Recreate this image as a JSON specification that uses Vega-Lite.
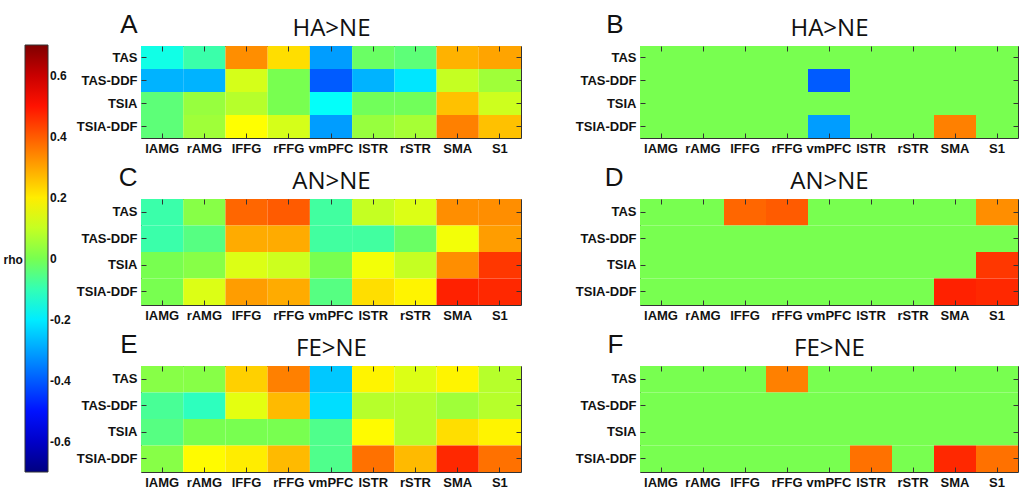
{
  "$schema": "https://vega.github.io/schema/vega-lite/v6.json",
  "background": "white",
  "padding": {"left": 2, "top": 10, "right": 4, "bottom": 4},
  "data": {"values": [
    {"panel":"A","measure":"TAS","region":"lAMG","rho":-0.15},{"panel":"A","measure":"TAS","region":"rAMG","rho":-0.09},{"panel":"A","measure":"TAS","region":"lFFG","rho":0.33},{"panel":"A","measure":"TAS","region":"rFFG","rho":0.22},{"panel":"A","measure":"TAS","region":"vmPFC","rho":-0.31},{"panel":"A","measure":"TAS","region":"lSTR","rho":-0.02},{"panel":"A","measure":"TAS","region":"rSTR","rho":-0.04},{"panel":"A","measure":"TAS","region":"SMA","rho":0.28},{"panel":"A","measure":"TAS","region":"S1","rho":0.30},
    {"panel":"A","measure":"TAS-DDF","region":"lAMG","rho":-0.28},{"panel":"A","measure":"TAS-DDF","region":"rAMG","rho":-0.28},{"panel":"A","measure":"TAS-DDF","region":"lFFG","rho":0.12},{"panel":"A","measure":"TAS-DDF","region":"rFFG","rho":0.0},{"panel":"A","measure":"TAS-DDF","region":"vmPFC","rho":-0.40},{"panel":"A","measure":"TAS-DDF","region":"lSTR","rho":-0.28},{"panel":"A","measure":"TAS-DDF","region":"rSTR","rho":-0.21},{"panel":"A","measure":"TAS-DDF","region":"SMA","rho":0.10},{"panel":"A","measure":"TAS-DDF","region":"S1","rho":0.05},
    {"panel":"A","measure":"TSIA","region":"lAMG","rho":-0.04},{"panel":"A","measure":"TSIA","region":"rAMG","rho":0.04},{"panel":"A","measure":"TSIA","region":"lFFG","rho":0.08},{"panel":"A","measure":"TSIA","region":"rFFG","rho":0.0},{"panel":"A","measure":"TSIA","region":"vmPFC","rho":-0.17},{"panel":"A","measure":"TSIA","region":"lSTR","rho":-0.01},{"panel":"A","measure":"TSIA","region":"rSTR","rho":-0.01},{"panel":"A","measure":"TSIA","region":"SMA","rho":0.26},{"panel":"A","measure":"TSIA","region":"S1","rho":0.11},
    {"panel":"A","measure":"TSIA-DDF","region":"lAMG","rho":-0.04},{"panel":"A","measure":"TSIA-DDF","region":"rAMG","rho":0.05},{"panel":"A","measure":"TSIA-DDF","region":"lFFG","rho":0.175},{"panel":"A","measure":"TSIA-DDF","region":"rFFG","rho":0.12},{"panel":"A","measure":"TSIA-DDF","region":"vmPFC","rho":-0.31},{"panel":"A","measure":"TSIA-DDF","region":"lSTR","rho":0.04},{"panel":"A","measure":"TSIA-DDF","region":"rSTR","rho":0.06},{"panel":"A","measure":"TSIA-DDF","region":"SMA","rho":0.35},{"panel":"A","measure":"TSIA-DDF","region":"S1","rho":0.26},

    {"panel":"B","measure":"TAS","region":"lAMG","rho":0},{"panel":"B","measure":"TAS","region":"rAMG","rho":0},{"panel":"B","measure":"TAS","region":"lFFG","rho":0},{"panel":"B","measure":"TAS","region":"rFFG","rho":0},{"panel":"B","measure":"TAS","region":"vmPFC","rho":0},{"panel":"B","measure":"TAS","region":"lSTR","rho":0},{"panel":"B","measure":"TAS","region":"rSTR","rho":0},{"panel":"B","measure":"TAS","region":"SMA","rho":0},{"panel":"B","measure":"TAS","region":"S1","rho":0},
    {"panel":"B","measure":"TAS-DDF","region":"lAMG","rho":0},{"panel":"B","measure":"TAS-DDF","region":"rAMG","rho":0},{"panel":"B","measure":"TAS-DDF","region":"lFFG","rho":0},{"panel":"B","measure":"TAS-DDF","region":"rFFG","rho":0},{"panel":"B","measure":"TAS-DDF","region":"vmPFC","rho":-0.40},{"panel":"B","measure":"TAS-DDF","region":"lSTR","rho":0},{"panel":"B","measure":"TAS-DDF","region":"rSTR","rho":0},{"panel":"B","measure":"TAS-DDF","region":"SMA","rho":0},{"panel":"B","measure":"TAS-DDF","region":"S1","rho":0},
    {"panel":"B","measure":"TSIA","region":"lAMG","rho":0},{"panel":"B","measure":"TSIA","region":"rAMG","rho":0},{"panel":"B","measure":"TSIA","region":"lFFG","rho":0},{"panel":"B","measure":"TSIA","region":"rFFG","rho":0},{"panel":"B","measure":"TSIA","region":"vmPFC","rho":0},{"panel":"B","measure":"TSIA","region":"lSTR","rho":0},{"panel":"B","measure":"TSIA","region":"rSTR","rho":0},{"panel":"B","measure":"TSIA","region":"SMA","rho":0},{"panel":"B","measure":"TSIA","region":"S1","rho":0},
    {"panel":"B","measure":"TSIA-DDF","region":"lAMG","rho":0},{"panel":"B","measure":"TSIA-DDF","region":"rAMG","rho":0},{"panel":"B","measure":"TSIA-DDF","region":"lFFG","rho":0},{"panel":"B","measure":"TSIA-DDF","region":"rFFG","rho":0},{"panel":"B","measure":"TSIA-DDF","region":"vmPFC","rho":-0.31},{"panel":"B","measure":"TSIA-DDF","region":"lSTR","rho":0},{"panel":"B","measure":"TSIA-DDF","region":"rSTR","rho":0},{"panel":"B","measure":"TSIA-DDF","region":"SMA","rho":0.35},{"panel":"B","measure":"TSIA-DDF","region":"S1","rho":0},

    {"panel":"C","measure":"TAS","region":"lAMG","rho":-0.09},{"panel":"C","measure":"TAS","region":"rAMG","rho":0.02},{"panel":"C","measure":"TAS","region":"lFFG","rho":0.385},{"panel":"C","measure":"TAS","region":"rFFG","rho":0.40},{"panel":"C","measure":"TAS","region":"vmPFC","rho":-0.08},{"panel":"C","measure":"TAS","region":"lSTR","rho":0.10},{"panel":"C","measure":"TAS","region":"rSTR","rho":0.13},{"panel":"C","measure":"TAS","region":"SMA","rho":0.33},{"panel":"C","measure":"TAS","region":"S1","rho":0.33},
    {"panel":"C","measure":"TAS-DDF","region":"lAMG","rho":-0.09},{"panel":"C","measure":"TAS-DDF","region":"rAMG","rho":-0.05},{"panel":"C","measure":"TAS-DDF","region":"lFFG","rho":0.29},{"panel":"C","measure":"TAS-DDF","region":"rFFG","rho":0.29},{"panel":"C","measure":"TAS-DDF","region":"vmPFC","rho":-0.08},{"panel":"C","measure":"TAS-DDF","region":"lSTR","rho":-0.08},{"panel":"C","measure":"TAS-DDF","region":"rSTR","rho":-0.02},{"panel":"C","measure":"TAS-DDF","region":"SMA","rho":0.16},{"panel":"C","measure":"TAS-DDF","region":"S1","rho":0.31},
    {"panel":"C","measure":"TSIA","region":"lAMG","rho":0.0},{"panel":"C","measure":"TSIA","region":"rAMG","rho":0.02},{"panel":"C","measure":"TSIA","region":"lFFG","rho":0.13},{"panel":"C","measure":"TSIA","region":"rFFG","rho":0.11},{"panel":"C","measure":"TSIA","region":"vmPFC","rho":0.0},{"panel":"C","measure":"TSIA","region":"lSTR","rho":0.16},{"panel":"C","measure":"TSIA","region":"rSTR","rho":0.10},{"panel":"C","measure":"TSIA","region":"SMA","rho":0.33},{"panel":"C","measure":"TSIA","region":"S1","rho":0.45},
    {"panel":"C","measure":"TSIA-DDF","region":"lAMG","rho":0.0},{"panel":"C","measure":"TSIA-DDF","region":"rAMG","rho":0.13},{"panel":"C","measure":"TSIA-DDF","region":"lFFG","rho":0.31},{"panel":"C","measure":"TSIA-DDF","region":"rFFG","rho":0.29},{"panel":"C","measure":"TSIA-DDF","region":"vmPFC","rho":-0.05},{"panel":"C","measure":"TSIA-DDF","region":"lSTR","rho":0.22},{"panel":"C","measure":"TSIA-DDF","region":"rSTR","rho":0.19},{"panel":"C","measure":"TSIA-DDF","region":"SMA","rho":0.48},{"panel":"C","measure":"TSIA-DDF","region":"S1","rho":0.47},

    {"panel":"D","measure":"TAS","region":"lAMG","rho":0},{"panel":"D","measure":"TAS","region":"rAMG","rho":0},{"panel":"D","measure":"TAS","region":"lFFG","rho":0.385},{"panel":"D","measure":"TAS","region":"rFFG","rho":0.40},{"panel":"D","measure":"TAS","region":"vmPFC","rho":0},{"panel":"D","measure":"TAS","region":"lSTR","rho":0},{"panel":"D","measure":"TAS","region":"rSTR","rho":0},{"panel":"D","measure":"TAS","region":"SMA","rho":0},{"panel":"D","measure":"TAS","region":"S1","rho":0.33},
    {"panel":"D","measure":"TAS-DDF","region":"lAMG","rho":0},{"panel":"D","measure":"TAS-DDF","region":"rAMG","rho":0},{"panel":"D","measure":"TAS-DDF","region":"lFFG","rho":0},{"panel":"D","measure":"TAS-DDF","region":"rFFG","rho":0},{"panel":"D","measure":"TAS-DDF","region":"vmPFC","rho":0},{"panel":"D","measure":"TAS-DDF","region":"lSTR","rho":0},{"panel":"D","measure":"TAS-DDF","region":"rSTR","rho":0},{"panel":"D","measure":"TAS-DDF","region":"SMA","rho":0},{"panel":"D","measure":"TAS-DDF","region":"S1","rho":0},
    {"panel":"D","measure":"TSIA","region":"lAMG","rho":0},{"panel":"D","measure":"TSIA","region":"rAMG","rho":0},{"panel":"D","measure":"TSIA","region":"lFFG","rho":0},{"panel":"D","measure":"TSIA","region":"rFFG","rho":0},{"panel":"D","measure":"TSIA","region":"vmPFC","rho":0},{"panel":"D","measure":"TSIA","region":"lSTR","rho":0},{"panel":"D","measure":"TSIA","region":"rSTR","rho":0},{"panel":"D","measure":"TSIA","region":"SMA","rho":0},{"panel":"D","measure":"TSIA","region":"S1","rho":0.45},
    {"panel":"D","measure":"TSIA-DDF","region":"lAMG","rho":0},{"panel":"D","measure":"TSIA-DDF","region":"rAMG","rho":0},{"panel":"D","measure":"TSIA-DDF","region":"lFFG","rho":0},{"panel":"D","measure":"TSIA-DDF","region":"rFFG","rho":0},{"panel":"D","measure":"TSIA-DDF","region":"vmPFC","rho":0},{"panel":"D","measure":"TSIA-DDF","region":"lSTR","rho":0},{"panel":"D","measure":"TSIA-DDF","region":"rSTR","rho":0},{"panel":"D","measure":"TSIA-DDF","region":"SMA","rho":0.48},{"panel":"D","measure":"TSIA-DDF","region":"S1","rho":0.47},

    {"panel":"E","measure":"TAS","region":"lAMG","rho":0.02},{"panel":"E","measure":"TAS","region":"rAMG","rho":0.02},{"panel":"E","measure":"TAS","region":"lFFG","rho":0.24},{"panel":"E","measure":"TAS","region":"rFFG","rho":0.35},{"panel":"E","measure":"TAS","region":"vmPFC","rho":-0.25},{"panel":"E","measure":"TAS","region":"lSTR","rho":0.19},{"panel":"E","measure":"TAS","region":"rSTR","rho":0.13},{"panel":"E","measure":"TAS","region":"SMA","rho":0.19},{"panel":"E","measure":"TAS","region":"S1","rho":0.08},
    {"panel":"E","measure":"TAS-DDF","region":"lAMG","rho":-0.07},{"panel":"E","measure":"TAS-DDF","region":"rAMG","rho":-0.11},{"panel":"E","measure":"TAS-DDF","region":"lFFG","rho":0.14},{"panel":"E","measure":"TAS-DDF","region":"rFFG","rho":0.27},{"panel":"E","measure":"TAS-DDF","region":"vmPFC","rho":-0.22},{"panel":"E","measure":"TAS-DDF","region":"lSTR","rho":0.08},{"panel":"E","measure":"TAS-DDF","region":"rSTR","rho":0.08},{"panel":"E","measure":"TAS-DDF","region":"SMA","rho":0.05},{"panel":"E","measure":"TAS-DDF","region":"S1","rho":0.08},
    {"panel":"E","measure":"TSIA","region":"lAMG","rho":-0.05},{"panel":"E","measure":"TSIA","region":"rAMG","rho":0.0},{"panel":"E","measure":"TSIA","region":"lFFG","rho":0.0},{"panel":"E","measure":"TSIA","region":"rFFG","rho":0.0},{"panel":"E","measure":"TSIA","region":"vmPFC","rho":-0.06},{"panel":"E","measure":"TSIA","region":"lSTR","rho":0.18},{"panel":"E","measure":"TSIA","region":"rSTR","rho":0.08},{"panel":"E","measure":"TSIA","region":"SMA","rho":0.22},{"panel":"E","measure":"TSIA","region":"S1","rho":0.19},
    {"panel":"E","measure":"TSIA-DDF","region":"lAMG","rho":0.02},{"panel":"E","measure":"TSIA-DDF","region":"rAMG","rho":0.18},{"panel":"E","measure":"TSIA-DDF","region":"lFFG","rho":0.20},{"panel":"E","measure":"TSIA-DDF","region":"rFFG","rho":0.27},{"panel":"E","measure":"TSIA-DDF","region":"vmPFC","rho":-0.06},{"panel":"E","measure":"TSIA-DDF","region":"lSTR","rho":0.37},{"panel":"E","measure":"TSIA-DDF","region":"rSTR","rho":0.27},{"panel":"E","measure":"TSIA-DDF","region":"SMA","rho":0.47},{"panel":"E","measure":"TSIA-DDF","region":"S1","rho":0.37},

    {"panel":"F","measure":"TAS","region":"lAMG","rho":0},{"panel":"F","measure":"TAS","region":"rAMG","rho":0},{"panel":"F","measure":"TAS","region":"lFFG","rho":0},{"panel":"F","measure":"TAS","region":"rFFG","rho":0.35},{"panel":"F","measure":"TAS","region":"vmPFC","rho":0},{"panel":"F","measure":"TAS","region":"lSTR","rho":0},{"panel":"F","measure":"TAS","region":"rSTR","rho":0},{"panel":"F","measure":"TAS","region":"SMA","rho":0},{"panel":"F","measure":"TAS","region":"S1","rho":0},
    {"panel":"F","measure":"TAS-DDF","region":"lAMG","rho":0},{"panel":"F","measure":"TAS-DDF","region":"rAMG","rho":0},{"panel":"F","measure":"TAS-DDF","region":"lFFG","rho":0},{"panel":"F","measure":"TAS-DDF","region":"rFFG","rho":0},{"panel":"F","measure":"TAS-DDF","region":"vmPFC","rho":0},{"panel":"F","measure":"TAS-DDF","region":"lSTR","rho":0},{"panel":"F","measure":"TAS-DDF","region":"rSTR","rho":0},{"panel":"F","measure":"TAS-DDF","region":"SMA","rho":0},{"panel":"F","measure":"TAS-DDF","region":"S1","rho":0},
    {"panel":"F","measure":"TSIA","region":"lAMG","rho":0},{"panel":"F","measure":"TSIA","region":"rAMG","rho":0},{"panel":"F","measure":"TSIA","region":"lFFG","rho":0},{"panel":"F","measure":"TSIA","region":"rFFG","rho":0},{"panel":"F","measure":"TSIA","region":"vmPFC","rho":0},{"panel":"F","measure":"TSIA","region":"lSTR","rho":0},{"panel":"F","measure":"TSIA","region":"rSTR","rho":0},{"panel":"F","measure":"TSIA","region":"SMA","rho":0},{"panel":"F","measure":"TSIA","region":"S1","rho":0},
    {"panel":"F","measure":"TSIA-DDF","region":"lAMG","rho":0},{"panel":"F","measure":"TSIA-DDF","region":"rAMG","rho":0},{"panel":"F","measure":"TSIA-DDF","region":"lFFG","rho":0},{"panel":"F","measure":"TSIA-DDF","region":"rFFG","rho":0},{"panel":"F","measure":"TSIA-DDF","region":"vmPFC","rho":0},{"panel":"F","measure":"TSIA-DDF","region":"lSTR","rho":0.37},{"panel":"F","measure":"TSIA-DDF","region":"rSTR","rho":0},{"panel":"F","measure":"TSIA-DDF","region":"SMA","rho":0.47},{"panel":"F","measure":"TSIA-DDF","region":"S1","rho":0.37}
  ]},
  "config": {
    "view": {"stroke": "#333333", "strokeWidth": 1},
    "axis": {"domain": false, "grid": false, "tickSize": -5, "tickColor": "#333333", "labelFont": "Liberation Sans", "labelFontSize": 13, "labelFontWeight": "bold", "labelColor": "#111111", "labelAngle": 0},
    "axisLeft": {"labelPadding": 9, "titleFont": "Liberation Sans", "titleFontSize": 12, "titleFontWeight": "bold", "titleColor": "#111111", "titleAngle": 0, "titleAlign": "left", "titleBaseline": "middle"},
    "axisBottom": {"labelPadding": 9},
    "axisRight": {"titleFont": "Liberation Sans", "titleFontSize": 26, "titleFontWeight": "normal", "titleColor": "#111111", "titleAngle": 0, "titleAlign": "right", "titleBaseline": "alphabetic", "titleY": -14},
    "axisTop": {"titleFont": "Open Sans", "titleFontSize": 24, "titleFontWeight": "normal", "titleColor": "#111111", "titlePadding": 10, "titleBaseline": "alphabetic"},
    "legend": {"orient": "none", "direction": "vertical", "legendX": -116, "legendY": -1, "padding": 0, "gradientLength": 427, "gradientThickness": 23, "gradientStrokeColor": "#333333", "gradientStrokeWidth": 1, "labelFont": "Liberation Sans", "labelFontSize": 12, "labelFontWeight": "bold", "labelColor": "#111111", "labelOffset": 5}
  },
  "bounds": "flush",
  "columns": 2,
  "spacing": {"row": 61, "column": 119},
  "concat": [
      {"width": 380, "height": 92, "transform": [{"filter": "datum.panel === 'A'"}],
       "layer": [
        {"mark": {"type": "rect"}, "encoding": {
          "x": {"field": "region", "type": "nominal", "sort": ["lAMG","rAMG","lFFG","rFFG","vmPFC","lSTR","rSTR","SMA","S1"], "axis": {"orient": "bottom", "title": null}},
          "y": {"field": "measure", "type": "nominal", "sort": ["TAS","TAS-DDF","TSIA","TSIA-DDF"], "axis": {"orient": "left", "title": null}},
          "color": {"field": "rho", "type": "quantitative", "scale": {"domain": [-0.7,-0.525,-0.175,0,0.175,0.525,0.7], "range": ["#000080","#0000ff","#00ffff","#78ff50","#ffff00","#ff0000","#800000"], "interpolate": "rgb"}, "legend": {"title": null, "values": [-0.6,-0.4,-0.2,0,0.2,0.4,0.6], "format": ".1~f", "labelExpr": "replace(datum.label, '\u2212', '-')"}}}},
        {"mark": {"type": "rect", "opacity": 0}, "encoding": {
          "x": {"field": "region", "type": "nominal", "sort": ["lAMG","rAMG","lFFG","rFFG","vmPFC","lSTR","rSTR","SMA","S1"], "axis": {"orient": "top", "title": "HA>NE", "labels": false}},
          "y": {"field": "measure", "type": "nominal", "sort": ["TAS","TAS-DDF","TSIA","TSIA-DDF"], "axis": {"orient": "right", "title": "A", "titleX": -384, "labels": false}}}}
       ],
       "resolve": {"axis": {"x": "independent", "y": "independent"}}},
      {"width": 378, "height": 92, "transform": [{"filter": "datum.panel === 'B'"}],
       "layer": [
        {"mark": {"type": "rect"}, "encoding": {
          "x": {"field": "region", "type": "nominal", "sort": ["lAMG","rAMG","lFFG","rFFG","vmPFC","lSTR","rSTR","SMA","S1"], "axis": {"orient": "bottom", "title": null}},
          "y": {"field": "measure", "type": "nominal", "sort": ["TAS","TAS-DDF","TSIA","TSIA-DDF"], "axis": {"orient": "left", "title": null}},
          "color": {"field": "rho", "type": "quantitative", "scale": {"domain": [-0.7,-0.525,-0.175,0,0.175,0.525,0.7], "range": ["#000080","#0000ff","#00ffff","#78ff50","#ffff00","#ff0000","#800000"], "interpolate": "rgb"}, "legend": {"title": null, "values": [-0.6,-0.4,-0.2,0,0.2,0.4,0.6], "format": ".1~f", "labelExpr": "replace(datum.label, '\u2212', '-')"}}}},
        {"mark": {"type": "rect", "opacity": 0}, "encoding": {
          "x": {"field": "region", "type": "nominal", "sort": ["lAMG","rAMG","lFFG","rFFG","vmPFC","lSTR","rSTR","SMA","S1"], "axis": {"orient": "top", "title": "HA>NE", "labels": false}},
          "y": {"field": "measure", "type": "nominal", "sort": ["TAS","TAS-DDF","TSIA","TSIA-DDF"], "axis": {"orient": "right", "title": "B", "titleX": -395, "labels": false}}}}
       ],
       "resolve": {"axis": {"x": "independent", "y": "independent"}}},
      {"width": 380, "height": 106, "transform": [{"filter": "datum.panel === 'C'"}],
       "layer": [
        {"mark": {"type": "rect"}, "encoding": {
          "x": {"field": "region", "type": "nominal", "sort": ["lAMG","rAMG","lFFG","rFFG","vmPFC","lSTR","rSTR","SMA","S1"], "axis": {"orient": "bottom", "title": null}},
          "y": {"field": "measure", "type": "nominal", "sort": ["TAS","TAS-DDF","TSIA","TSIA-DDF"], "axis": {"orient": "left", "title": "rho", "titleX": -138, "titleY": 60}},
          "color": {"field": "rho", "type": "quantitative", "scale": {"domain": [-0.7,-0.525,-0.175,0,0.175,0.525,0.7], "range": ["#000080","#0000ff","#00ffff","#78ff50","#ffff00","#ff0000","#800000"], "interpolate": "rgb"}, "legend": {"title": null, "values": [-0.6,-0.4,-0.2,0,0.2,0.4,0.6], "format": ".1~f", "labelExpr": "replace(datum.label, '\u2212', '-')"}}}},
        {"mark": {"type": "rect", "opacity": 0}, "encoding": {
          "x": {"field": "region", "type": "nominal", "sort": ["lAMG","rAMG","lFFG","rFFG","vmPFC","lSTR","rSTR","SMA","S1"], "axis": {"orient": "top", "title": "AN>NE", "labels": false}},
          "y": {"field": "measure", "type": "nominal", "sort": ["TAS","TAS-DDF","TSIA","TSIA-DDF"], "axis": {"orient": "right", "title": "C", "titleX": -384, "labels": false}}}}
       ],
       "resolve": {"axis": {"x": "independent", "y": "independent"}}},
      {"width": 378, "height": 106, "transform": [{"filter": "datum.panel === 'D'"}],
       "layer": [
        {"mark": {"type": "rect"}, "encoding": {
          "x": {"field": "region", "type": "nominal", "sort": ["lAMG","rAMG","lFFG","rFFG","vmPFC","lSTR","rSTR","SMA","S1"], "axis": {"orient": "bottom", "title": null}},
          "y": {"field": "measure", "type": "nominal", "sort": ["TAS","TAS-DDF","TSIA","TSIA-DDF"], "axis": {"orient": "left", "title": null}},
          "color": {"field": "rho", "type": "quantitative", "scale": {"domain": [-0.7,-0.525,-0.175,0,0.175,0.525,0.7], "range": ["#000080","#0000ff","#00ffff","#78ff50","#ffff00","#ff0000","#800000"], "interpolate": "rgb"}, "legend": {"title": null, "values": [-0.6,-0.4,-0.2,0,0.2,0.4,0.6], "format": ".1~f", "labelExpr": "replace(datum.label, '\u2212', '-')"}}}},
        {"mark": {"type": "rect", "opacity": 0}, "encoding": {
          "x": {"field": "region", "type": "nominal", "sort": ["lAMG","rAMG","lFFG","rFFG","vmPFC","lSTR","rSTR","SMA","S1"], "axis": {"orient": "top", "title": "AN>NE", "labels": false}},
          "y": {"field": "measure", "type": "nominal", "sort": ["TAS","TAS-DDF","TSIA","TSIA-DDF"], "axis": {"orient": "right", "title": "D", "titleX": -395, "labels": false}}}}
       ],
       "resolve": {"axis": {"x": "independent", "y": "independent"}}},
      {"width": 380, "height": 106, "transform": [{"filter": "datum.panel === 'E'"}],
       "layer": [
        {"mark": {"type": "rect"}, "encoding": {
          "x": {"field": "region", "type": "nominal", "sort": ["lAMG","rAMG","lFFG","rFFG","vmPFC","lSTR","rSTR","SMA","S1"], "axis": {"orient": "bottom", "title": null}},
          "y": {"field": "measure", "type": "nominal", "sort": ["TAS","TAS-DDF","TSIA","TSIA-DDF"], "axis": {"orient": "left", "title": null}},
          "color": {"field": "rho", "type": "quantitative", "scale": {"domain": [-0.7,-0.525,-0.175,0,0.175,0.525,0.7], "range": ["#000080","#0000ff","#00ffff","#78ff50","#ffff00","#ff0000","#800000"], "interpolate": "rgb"}, "legend": {"title": null, "values": [-0.6,-0.4,-0.2,0,0.2,0.4,0.6], "format": ".1~f", "labelExpr": "replace(datum.label, '\u2212', '-')"}}}},
        {"mark": {"type": "rect", "opacity": 0}, "encoding": {
          "x": {"field": "region", "type": "nominal", "sort": ["lAMG","rAMG","lFFG","rFFG","vmPFC","lSTR","rSTR","SMA","S1"], "axis": {"orient": "top", "title": "FE>NE", "labels": false}},
          "y": {"field": "measure", "type": "nominal", "sort": ["TAS","TAS-DDF","TSIA","TSIA-DDF"], "axis": {"orient": "right", "title": "E", "titleX": -384, "labels": false}}}}
       ],
       "resolve": {"axis": {"x": "independent", "y": "independent"}}},
      {"width": 378, "height": 106, "transform": [{"filter": "datum.panel === 'F'"}],
       "layer": [
        {"mark": {"type": "rect"}, "encoding": {
          "x": {"field": "region", "type": "nominal", "sort": ["lAMG","rAMG","lFFG","rFFG","vmPFC","lSTR","rSTR","SMA","S1"], "axis": {"orient": "bottom", "title": null}},
          "y": {"field": "measure", "type": "nominal", "sort": ["TAS","TAS-DDF","TSIA","TSIA-DDF"], "axis": {"orient": "left", "title": null}},
          "color": {"field": "rho", "type": "quantitative", "scale": {"domain": [-0.7,-0.525,-0.175,0,0.175,0.525,0.7], "range": ["#000080","#0000ff","#00ffff","#78ff50","#ffff00","#ff0000","#800000"], "interpolate": "rgb"}, "legend": {"title": null, "values": [-0.6,-0.4,-0.2,0,0.2,0.4,0.6], "format": ".1~f", "labelExpr": "replace(datum.label, '\u2212', '-')"}}}},
        {"mark": {"type": "rect", "opacity": 0}, "encoding": {
          "x": {"field": "region", "type": "nominal", "sort": ["lAMG","rAMG","lFFG","rFFG","vmPFC","lSTR","rSTR","SMA","S1"], "axis": {"orient": "top", "title": "FE>NE", "labels": false}},
          "y": {"field": "measure", "type": "nominal", "sort": ["TAS","TAS-DDF","TSIA","TSIA-DDF"], "axis": {"orient": "right", "title": "F", "titleX": -395, "labels": false}}}}
       ],
       "resolve": {"axis": {"x": "independent", "y": "independent"}}}
  ]
}
